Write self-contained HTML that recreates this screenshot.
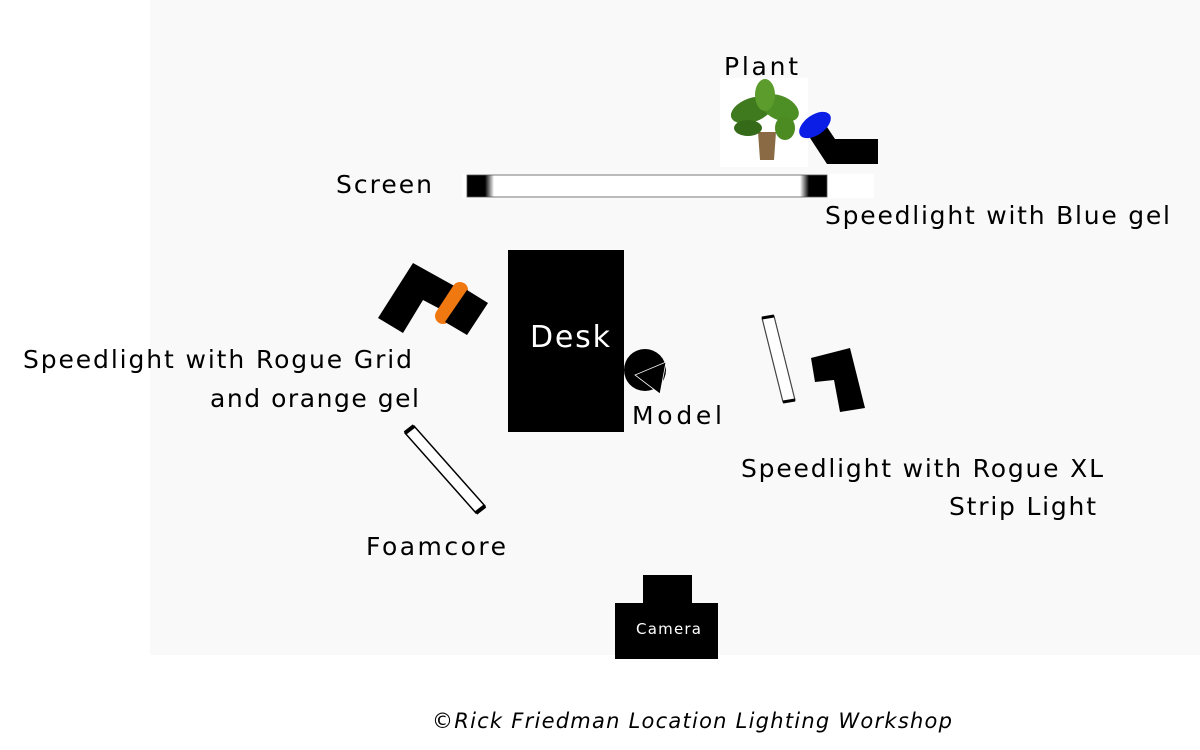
<!DOCTYPE html>
<html><head><meta charset="utf-8"><style>
html,body{margin:0;padding:0;background:#fff;}
svg{display:block;}
text{font-family:"DejaVu Sans",sans-serif;}
</style></head><body>
<svg width="1200" height="750" viewBox="0 0 1200 750" xmlns="http://www.w3.org/2000/svg">
<defs>
<linearGradient id="scr" x1="0" x2="1" y1="0" y2="0">
<stop offset="0" stop-color="#000"/><stop offset="0.05" stop-color="#000"/><stop offset="0.075" stop-color="#fff"/>
<stop offset="0.925" stop-color="#fff"/><stop offset="0.95" stop-color="#000"/><stop offset="1" stop-color="#000"/>
</linearGradient>
</defs>
<rect x="0" y="0" width="1200" height="750" fill="#fff"/>
<rect x="150" y="0" width="1050" height="655" fill="#f9f9f9"/>

<!-- plant -->
<rect x="720" y="78" width="88" height="89" fill="#fff"/>
<path d="M758 132 L776 132 L774 160 L760 160 Z" fill="#8a6a45"/>
<ellipse cx="752" cy="110" rx="22" ry="12" fill="#3f7a1e" transform="rotate(-20 752 110)"/>
<ellipse cx="780" cy="108" rx="20" ry="12" fill="#4e8f25" transform="rotate(25 780 108)"/>
<ellipse cx="765" cy="95" rx="10" ry="16" fill="#5b9c2c"/>
<ellipse cx="748" cy="128" rx="14" ry="8" fill="#356b18"/>
<ellipse cx="785" cy="128" rx="10" ry="12" fill="#4c8a22"/>

<!-- blue speedlight -->
<polygon points="810,138 827,127 835,139 878,139 878,164 827,164" fill="#000"/>
<ellipse cx="815" cy="125" rx="18" ry="10" fill="#0a1ee6" transform="rotate(-35 815 125)"/>

<!-- screen -->
<rect x="462" y="174" width="412" height="24" fill="#fff"/>
<rect x="467" y="175" width="360" height="22" fill="url(#scr)" stroke="#555" stroke-width="0.8"/>

<!-- left speedlight -->
<polygon points="413,263 458,288 442,310 423,300 403,333 378,318" fill="#000"/>
<line x1="460" y1="290" x2="443" y2="316" stroke="#f07810" stroke-width="16" stroke-linecap="round"/>
<polygon points="467,290 488,303 467,335 445,322" fill="#000"/>

<!-- desk -->
<rect x="508" y="250" width="116" height="182" fill="#000"/>
<text x="530" y="347" font-size="30" fill="#fff" textLength="80">Desk</text>

<!-- model -->
<circle cx="645" cy="370" r="21" fill="#000"/>
<polygon points="635,375 666,362 660,394" fill="#000" stroke="#fff" stroke-width="0.8"/>

<!-- foamcore -->
<polygon points="405,433 414,426 485,506 476,513" fill="#fff" stroke="#000" stroke-width="1.5"/>
<line x1="405" y1="433" x2="414" y2="426" stroke="#000" stroke-width="4"/>
<line x1="476" y1="513" x2="485" y2="506" stroke="#000" stroke-width="4"/>

<!-- strip light -->
<polygon points="762,318 774,316 795,400 783,402" fill="#fff" stroke="#444" stroke-width="1.2"/>
<line x1="762" y1="318" x2="774" y2="316" stroke="#000" stroke-width="3"/>
<line x1="783" y1="402" x2="795" y2="400" stroke="#000" stroke-width="3"/>

<!-- right speedlight -->
<polygon points="811,358 850,348 865,408 840,412 834,380 815,382" fill="#000"/>

<!-- camera -->
<rect x="643" y="575" width="49" height="30" fill="#000"/>
<rect x="615" y="603" width="103" height="56" fill="#000"/>
<text x="636" y="634" font-size="15" fill="#fff" textLength="65">Camera</text>

<!-- labels -->
<g font-size="25" fill="#000">
<text x="724" y="75" textLength="74">Plant</text>
<text x="336" y="193" textLength="96">Screen</text>
<text x="825" y="224" textLength="345">Speedlight with Blue gel</text>
<text x="23" y="368" textLength="389">Speedlight with Rogue Grid</text>
<text x="210" y="407" textLength="209">and orange gel</text>
<text x="632" y="424" textLength="90">Model</text>
<text x="741" y="477" textLength="362">Speedlight with Rogue XL</text>
<text x="949" y="515" textLength="147">Strip Light</text>
<text x="366" y="555" textLength="140">Foamcore</text>
</g>
<text x="432" y="728" font-size="21" font-style="italic" font-family="Liberation Serif, serif" textLength="520">©Rick Friedman Location Lighting Workshop</text>
</svg>
</body></html>
